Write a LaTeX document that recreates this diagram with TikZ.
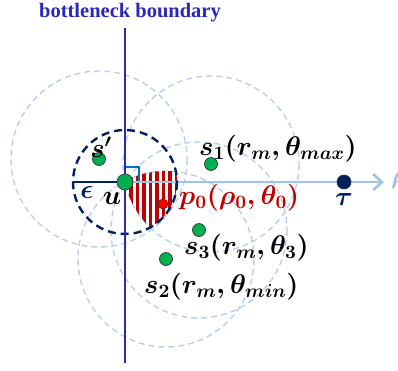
\documentclass[tikz,border=0pt]{standalone}
\usepackage{fontspec}
\newfontfamily\titlefont{Liberation Serif}
\DeclareFontShape{OML}{cmm}{b}{it}{<->cmmib10}{}
\DeclareFontShape{OML}{cmm}{m}{it}{<->cmmi10}{}
\DeclareFontShape{OMS}{cmsy}{b}{n}{<->cmbsy10}{}
\DeclareFontShape{OMS}{cmsy}{m}{n}{<->cmsy10}{}
\DeclareFontShape{OT1}{cmr}{bx}{n}{<->cmbx10}{}
\DeclareFontShape{OT1}{cmr}{m}{n}{<->cmr10}{}
\usetikzlibrary{arrows.meta}
\definecolor{bnblue}{RGB}{40,40,185}
\definecolor{navy}{RGB}{0,32,96}
\definecolor{lblue}{RGB}{185,208,232}
\definecolor{abblue}{RGB}{160,196,230}
\definecolor{rablue}{RGB}{0,112,192}
\definecolor{dgreen}{RGB}{0,176,80}
\definecolor{dred}{RGB}{192,0,0}
\tikzset{
  bigc/.style={draw=lblue,line width=1.4pt,dash pattern=on 6pt off 4pt},
  dot/.style={circle,draw=black!80,line width=0.7pt,inner sep=0pt,minimum size=#1},
  gdot/.style={dot=13pt,fill=dgreen},
  lbl/.style={font=\fontsize{27}{30}\selectfont\boldmath,inner sep=0pt},
}
\begin{document}
\begin{tikzpicture}[x=1pt,y=-1pt]
\useasboundingbox (0,0) rectangle (398,370);
% coordinates
\coordinate (u) at (125,182);
\coordinate (s1) at (211,164);
\coordinate (s2) at (166,259);
\coordinate (s3) at (199,230);
\coordinate (sp) at (99,159);
\coordinate (top) at (125,28);
\coordinate (bot) at (125,363);
\coordinate (eps) at (73,182);
\coordinate (arrend) at (384,182);
% big dashed circles
\draw[bigc] (sp) circle (88);
\draw[bigc] (s1) circle (88);
\draw[bigc] (s2) circle (88);
\draw[bigc] (s3) circle (88);
% hatched region
\begin{scope}
  \clip (u) circle (52);
  \clip (s1) circle (88);
  \clip (s2) circle (88);
  \clip (127,150) rectangle (200,240);
  \foreach \x in {131,137.5,...,180}
    \draw[dred,line width=3.2pt] (\x,150) -- (\x,240);
\end{scope}
% light blue arrow
\draw[abblue,line width=2.6pt,-{Straight Barb[length=9pt,width=16pt,line width=2.6pt]}] (u) -- (arrend);
\node[text=abblue,lbl,anchor=west] (rho) at (391,180) {$\rho$};
% small dashed circle
\draw[navy,line width=2.4pt,dash pattern=on 8pt off 5pt] (u) circle (52);
% epsilon radius
\draw[navy,line width=2pt] (u) -- (eps);
% right angle
\draw[rablue,line width=2pt] (125,167) -- (139,167) -- (139,181);
% bottleneck boundary
\draw[bnblue,line width=2pt] (top) -- (bot);
\node[text=bnblue,font=\titlefont\bfseries\fontsize{20.5}{23}\selectfont,inner sep=0pt] (title) at (130,13) {bottleneck boundary};
% dots
\node[gdot] (ns1) at (s1) {};
\node[gdot] (ns2) at (s2) {};
\node[gdot] (ns3) at (s3) {};
\node[gdot] (nsp) at (sp) {};
\node[dot=16pt,fill=dgreen] (nu) at (u) {};
\node[dot=14pt,fill=navy] (tau) at (344,182) {};
\node[dot=10pt,fill=red] (p0) at (163,204) {};
% labels
\node[lbl] (lsp) at (101,147) {$s'$};
\node[lbl,text=navy] (leps) at (87,192) {$\epsilon$};
\node[lbl] (lu) at (112,198) {$u$};
\node[lbl,anchor=west] (ls1) at (199,149) {$s_1(r_m,\theta_{max})$};
\node[lbl,anchor=west,text=dred] (lp0) at (179,198) {$p_0(\rho_0,\theta_0)$};
\node[lbl,text=navy] (ltau) at (344,199) {$\tau$};
\node[lbl,anchor=west] (ls3) at (184,248) {$s_3(r_m,\theta_3)$};
\node[lbl,anchor=west] (ls2) at (144,287) {$s_2(r_m,\theta_{min})$};
\end{tikzpicture}
\end{document}
